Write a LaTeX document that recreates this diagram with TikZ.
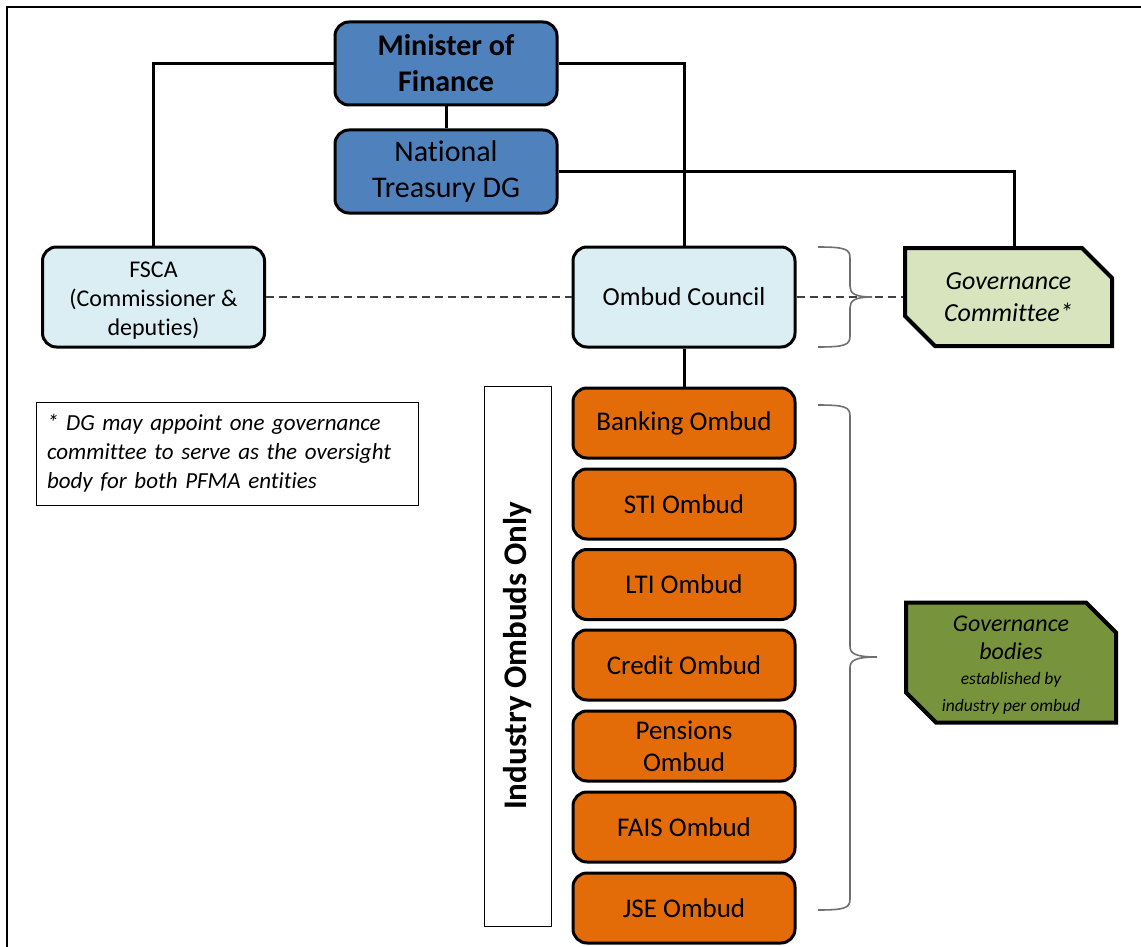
\documentclass[tikz,border=0pt]{standalone}
\usepackage{fontspec}
\setmainfont[Ligatures={NoCommon}]{Carlito}
\usetikzlibrary{shapes.misc}
\definecolor{nblue}{HTML}{4F81BD}
\definecolor{lblue}{HTML}{DBEEF4}
\definecolor{orng}{HTML}{E36C09}
\definecolor{pgreen}{HTML}{D7E4BD}
\definecolor{olive}{HTML}{77933C}
\definecolor{bracegray}{HTML}{6F6F6F}
\begin{document}
\begin{tikzpicture}[x=1pt,y=-1pt,
  box/.style={draw=black, line width=3pt, rounded corners=14pt, align=center, inner sep=0pt},
  bluebox/.style={box, fill=nblue, minimum width=222pt, minimum height=83pt, font=\fontsize{30}{36}\selectfont},
  lbluebox/.style={box, fill=lblue, minimum width=222pt, minimum height=100pt},
  ombox/.style={box, fill=orng, minimum width=222pt, minimum height=70pt, font=\fontsize{27}{32}\selectfont},
  govbox/.style={draw=black, line width=4pt, chamfered rectangle, chamfered rectangle corners={north east,south west},
     chamfered rectangle xsep=15pt, chamfered rectangle ysep=15pt, align=center, inner sep=0pt},
  conn/.style={line width=3pt},
  dashlink/.style={line width=1.2pt, dash pattern=on 8pt off 5pt, black!75},
  bracepath/.style={line width=1.6pt, bracegray},
  plainbox/.style={draw=black, line width=1pt}
]
\useasboundingbox (0,0) rectangle (1141,947);
% outer frame
\draw[line width=2pt] (7,947) -- (7,7) -- (1141,7);

% nodes
\node[bluebox] (min) at (446,63.5) {\bfseries Minister of\\\bfseries Finance};
\node[bluebox] (nt) at (446,171.5) {National\\Treasury DG};
\node[lbluebox, font=\fontsize{24}{29}\selectfont, text depth=0pt] (fsca) at (153.5,297) {\raisebox{-4pt}{FSCA}\\[0pt]\raisebox{-4pt}{(Commissioner \&}\\\raisebox{-4pt}{deputies)}};
\node[lbluebox, font=\fontsize{26}{30}\selectfont] (oc) at (684,297) {Ombud Council};
\node[govbox, fill=pgreen, minimum width=207pt, minimum height=98pt, font=\itshape\fontsize{26}{32}\selectfont] (gc) at (1008.5,297) {Governance\\Committee*};

\node[ombox] (bank) at (684,423) {Banking Ombud};
\node[ombox] (sti) at (684,504) {STI Ombud};
\node[ombox] (lti) at (684,584.5) {LTI Ombud};
\node[ombox] (cred) at (684,665) {Credit Ombud};
\node[ombox] (pens) at (684,746) {Pensions\\Ombud};
\node[ombox] (fais) at (684,827) {FAIS Ombud};
\node[ombox] (jse) at (684,908) {JSE Ombud};

\node[plainbox, rotate=90, minimum width=540pt, minimum height=67pt, inner sep=0pt, font=\bfseries\fontsize{33}{38}\selectfont] (ind) at (517.5,656) {Industry Ombuds Only};

\node[plainbox, minimum height=103pt, text width=360pt, inner xsep=11pt, inner ysep=0pt, align=left, font=\itshape\fontsize{23}{29}\selectfont] (note) at (227,453.5)
  {* DG may appoint one governance\\committee to serve as the oversight\\body for both PFMA entities};

\node[govbox, fill=olive, minimum width=210pt, minimum height=115pt] (gb) at (1011,662.5) {\phantom{\rule{160pt}{90pt}}};
\node[align=center, inner sep=0pt, font=\itshape\fontsize{24}{28}\selectfont] (gbtext) at ([yshift=-3pt]gb.center)
  {Governance\\bodies\\[-3pt]{\fontsize{17.5}{24}\selectfont established by}\\[-1pt]{\fontsize{17.5}{24}\selectfont industry per ombud}};

% connectors
\draw[conn] (min.south) -- (nt.north);
\draw[conn] (min.west) -| (fsca.north);
\draw[conn] (min.east) -| (oc.north);
\draw[conn] (nt.east) -| ([xshift=6pt]gc.north);
\draw[conn] (oc.south) -- (bank.north);
\draw[dashlink] (fsca.east) -- (oc.west);
\draw[dashlink] (oc.east) -- (gc.west);

% braces
\draw[bracepath] (818,247) .. controls (845,247) and (850,249) .. (850,258) -- (850,286)
  .. controls (850,293) and (854,297) .. (872,297)
  .. controls (854,297) and (850,301) .. (850,308) -- (850,336)
  .. controls (850,345) and (845,347) .. (818,347);
\draw[bracepath] (818,405) .. controls (845,405) and (850,407) .. (850,416) -- (850,646)
  .. controls (850,653) and (854,657) .. (877,657)
  .. controls (854,657) and (850,661) .. (850,668) -- (850,899)
  .. controls (850,908) and (845,910) .. (818,910);
\end{tikzpicture}
\end{document}
